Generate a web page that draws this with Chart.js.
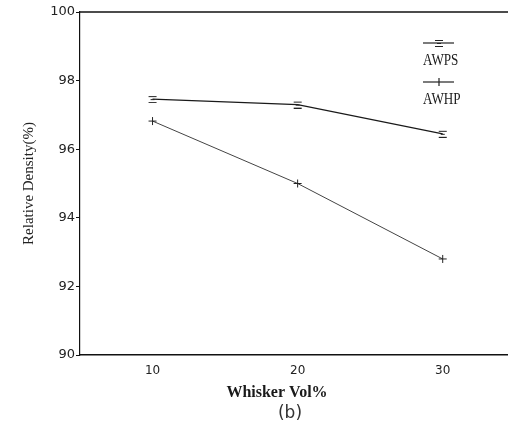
<!DOCTYPE html>
<html>
<head>
<meta charset="utf-8">
<script src="https://cdn.jsdelivr.net/npm/chart.js@4.4.0/dist/chart.umd.min.js"></script>
<style>
  body { margin: 0; background: #fff; }
  #wrap { width: 508px; height: 437px; }
</style>
</head>
<body>
<div id="wrap"><canvas id="densityChart" width="508" height="437"></canvas></div>
<script>
// whisker volume fraction (%)
const whiskerVol = [10, 20, 30];
// relative density (%) for the two materials
const awpsDensity = [97.46, 97.3, 96.45];
const awhpDensity = [96.82, 95.0, 92.8];
const yTickValues = [90, 92, 94, 96, 98, 100];

// little "=" style marker used for AWPS
function makeBarMarker() {
  const c = document.createElement('canvas');
  c.width = 10; c.height = 8;
  const g = c.getContext('2d');
  g.strokeStyle = '#222';
  g.lineWidth = 1;
  g.beginPath();
  g.moveTo(1, 1.5); g.lineTo(9, 1.5);
  g.moveTo(3, 4.5); g.lineTo(7, 4.5);
  g.moveTo(1, 7.5); g.lineTo(9, 7.5);
  g.stroke();
  return c;
}
const barMarker = makeBarMarker();

const paperPlugin = {
  id: 'paper',
  afterDraw(chart) {
    const { ctx, chartArea } = chart;
    ctx.save();
    // top frame line
    ctx.strokeStyle = '#111';
    ctx.lineWidth = 1.5;
    ctx.beginPath();
    ctx.moveTo(chartArea.left, chartArea.top);
    ctx.lineTo(chartArea.right, chartArea.top);
    ctx.stroke();

    // legend: sample line with marker, label underneath
    const rows = [43, 82];
    chart.data.datasets.forEach((ds, i) => {
      const y = rows[i];
      ctx.strokeStyle = '#222';
      ctx.lineWidth = 1.2;
      ctx.beginPath();
      ctx.moveTo(423, y);
      ctx.lineTo(454, y);
      ctx.stroke();
      if (ds.pointStyle === 'cross') {
        ctx.beginPath();
        ctx.moveTo(439, y - 4); ctx.lineTo(439, y + 4);
        ctx.stroke();
      } else {
        ctx.drawImage(barMarker, 434, y - 4);
      }
      ctx.save();
      ctx.translate(423, y + 18);
      ctx.scale(0.82, 1);
      ctx.fillStyle = '#1a1a1a';
      ctx.font = '16px "Liberation Serif"';
      ctx.textAlign = 'left';
      ctx.textBaseline = 'middle';
      ctx.fillText(ds.label, 0, 0);
      ctx.restore();
    });

    // x title and panel tag
    ctx.fillStyle = '#1a1a1a';
    ctx.textAlign = 'center';
    ctx.textBaseline = 'middle';
    ctx.font = 'bold 16px "Liberation Serif"';
    ctx.fillText('Whisker Vol%', 277, 393);
    ctx.font = '17px "DejaVu Sans"';
    ctx.fillStyle = '#333';
    ctx.fillText('(b)', 290, 414);
    ctx.restore();
  }
};

document.addEventListener('DOMContentLoaded', function () {
  const ctx = document.getElementById('densityChart').getContext('2d');
  const densityChart = new Chart(ctx, {
    type: 'line',
    data: {
      datasets: [{
        label: 'AWPS',
        data: whiskerVol.map((x, i) => ({ x: x, y: awpsDensity[i] })),
        borderColor: '#1a1a1a',
        borderWidth: 1.3,
        pointStyle: barMarker,
        pointRadius: 4,
        tension: 0
      }, {
        label: 'AWHP',
        data: whiskerVol.map((x, i) => ({ x: x, y: awhpDensity[i] })),
        borderColor: '#444',
        borderWidth: 1,
        pointStyle: 'cross',
        pointRadius: 4,
        pointBorderColor: '#222',
        pointBorderWidth: 1,
        tension: 0
      }]
    },
    options: {
      responsive: false,
      animation: false,
      layout: { autoPadding: false, padding: { top: 12, right: 0, left: 0, bottom: 0 } },
      scales: {
        x: {
          type: 'linear',
          min: 5,
          max: 34.5,
          afterBuildTicks: s => { s.ticks = whiskerVol.map(v => ({ value: v })); },
          afterFit: s => { s.height = 82; s.paddingLeft = 0; s.paddingRight = 0; },
          grid: { display: false, drawTicks: false },
          border: { display: true, color: '#111', width: 1.5 },
          ticks: {
            padding: 9,
            color: '#222',
            font: { family: '"DejaVu Sans"', size: 12 }
          }
        },
        y: {
          min: 90,
          max: 100,
          afterBuildTicks: s => { s.ticks = yTickValues.map(v => ({ value: v })); },
          afterFit: s => { s.width = 80; },
          grid: { drawOnChartArea: false, tickLength: 4, color: '#111' },
          border: { display: true, color: '#111', width: 1.2 },
          ticks: {
            padding: 1,
            color: '#222',
            font: { family: '"DejaVu Sans"', size: 13 }
          },
          title: {
            display: true,
            text: 'Relative Density(%)',
            color: '#222',
            padding: { top: 20, bottom: 0 },
            font: { family: '"Liberation Serif"', size: 15 }
          }
        }
      },
      plugins: {
        legend: { display: false },
        tooltip: { enabled: false }
      }
    },
    plugins: [paperPlugin]
  });
});
</script>
</body>
</html>
